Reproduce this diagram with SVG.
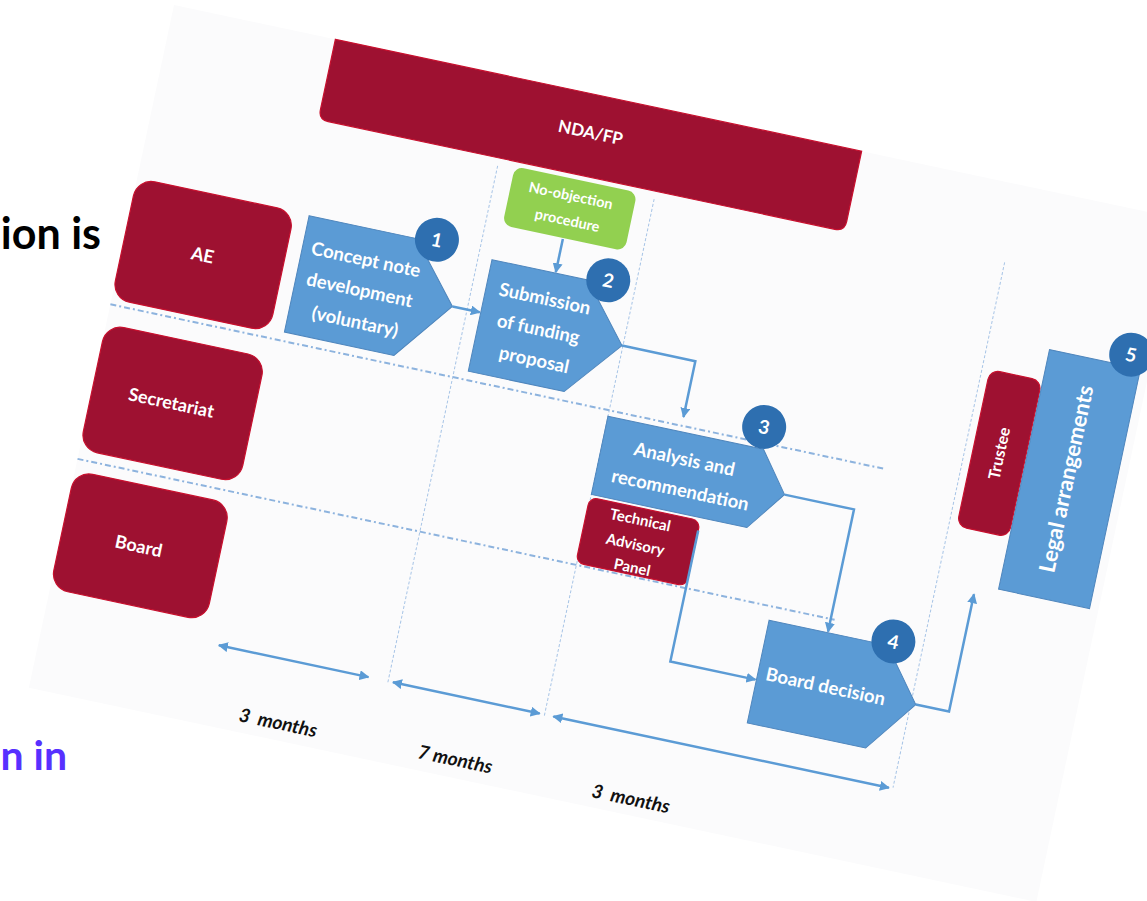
<svg xmlns="http://www.w3.org/2000/svg" width="1147" height="901" viewBox="0 0 1147 901">
  <defs>
    <style>
      .lane { fill: #9e1131; stroke: #c8102e; stroke-width: 1.2; }
      .step { fill: #5b9bd5; stroke: #4f86bd; stroke-width: 1; }
      .badge { fill: #2e6fb0; }
      .wt { fill: #ffffff; font-family: Lato, "Open Sans", sans-serif; font-weight: bold; text-anchor: middle; }
      .num { fill: #ffffff; font-family: Lato, "Open Sans", sans-serif; font-weight: bold; font-size: 19px; text-anchor: middle; }
      .conn { fill: none; stroke: #5b9bd5; stroke-width: 2.5; }
      .swim { fill: none; stroke: #8db3de; stroke-width: 2; stroke-dasharray: 6 3 2 3; }
      .col { fill: none; stroke: #a7c4e6; stroke-width: 1; stroke-dasharray: 3 2; }
      .span { fill: none; stroke: #5b9bd5; stroke-width: 2.5; }
      .dur { fill: #111111; font-family: Lato, "Open Sans", sans-serif; font-weight: bold; font-style: italic; font-size: 19px; text-anchor: middle; word-spacing: 4px; }
      .bg { font-family: Lato, "Open Sans", sans-serif; font-weight: bold; text-anchor: end; }
    </style>
    <marker id="arr" viewBox="0 0 10 10" refX="9" refY="5" markerWidth="4" markerHeight="4" orient="auto">
      <path d="M0,0 L10,5 L0,10 Z" fill="#5b9bd5"/>
    </marker>
    <marker id="arrStart" viewBox="0 0 10 10" refX="1" refY="5" markerWidth="4" markerHeight="4" orient="auto">
      <path d="M10,0 L0,5 L10,10 Z" fill="#5b9bd5"/>
    </marker>
  </defs>

  <rect width="1147" height="901" fill="#ffffff"/>

  <!-- slide text partly covered by the tilted sheet -->
  <text class="bg" x="101" y="249" font-size="43" fill="#000000">ion is</text>
  <text class="bg" x="67" y="770" font-size="41" fill="#5730ff">n in</text>

  <!-- tilted sheet with the process chart -->
  <g id="sheet" transform="translate(174,5) rotate(12)">
    <rect x="0" y="0" width="1030" height="698" fill="#fbfbfc"/>

    <!-- swimlane separators -->
    <g id="lanes-lines">
      <line class="swim" x1="0" y1="306" x2="792" y2="306"/>
      <line class="swim" x1="0" y1="464" x2="774" y2="464"/>
    </g>

    <!-- phase columns -->
    <g id="columns">
      <line class="col" x1="350" y1="90" x2="350" y2="618"/>
      <line class="col" x1="510" y1="90" x2="510" y2="619"/>
      <line class="col" x1="866" y1="79" x2="866" y2="616"/>
    </g>

    <!-- country-level header -->
    <g id="nda-fp">
      <path class="lane" d="M165,0 H703 V72 Q703,82 693,82 H175 Q165,82 165,72 Z"/>
      <text class="wt" x="434" y="44" font-size="17">NDA/FP</text>
    </g>

    <!-- lane headers -->
    <g id="lane-ae">
      <rect class="lane" x="0" y="177" width="161" height="123" rx="18"/>
      <text class="wt" x="80" y="245" font-size="18">AE</text>
    </g>
    <g id="lane-secretariat">
      <rect class="lane" x="0" y="326" width="163" height="128" rx="18"/>
      <text class="wt" x="80" y="396" font-size="18">Secretariat</text>
    </g>
    <g id="lane-board">
      <rect class="lane" x="0" y="476" width="159" height="120" rx="18"/>
      <text class="wt" x="78" y="543" font-size="18">Board</text>
    </g>

    <!-- step 1 -->
    <g id="step-1">
      <polygon class="step" points="176,178 286,178 335,237 288,297 176,297"/>
      <text class="wt" font-size="18.5">
        <tspan x="243" y="215.5">Concept note</tspan>
        <tspan x="243" y="246.5">development</tspan>
        <tspan x="243" y="278.5">(voluntary)</tspan>
      </text>
      <circle class="badge" cx="306" cy="175" r="22"/>
      <text class="num" x="306" y="182">1</text>
    </g>

    <!-- no-objection -->
    <g id="no-objection">
      <rect x="367" y="87" width="125" height="60" rx="9" fill="#92d050"/>
      <text class="wt" font-size="14.5">
        <tspan x="429.5" y="109">No-objection</tspan>
        <tspan x="429.5" y="134">procedure</tspan>
      </text>
    </g>

    <!-- step 2 -->
    <g id="step-2">
      <polygon class="step" points="364,183 462,183 509,240 462,297 364,297"/>
      <text class="wt" font-size="18.5">
        <tspan x="426" y="216.5">Submission</tspan>
        <tspan x="426" y="247.5">of funding</tspan>
        <tspan x="426" y="278.5">proposal</tspan>
      </text>
      <circle class="badge" cx="482" cy="179" r="22"/>
      <text class="num" x="482" y="186">2</text>
    </g>

    <!-- step 3 -->
    <g id="step-3">
      <polygon class="step" points="510,312 669,312 699,352 669,392 510,392"/>
      <text class="wt" font-size="18.5">
        <tspan x="596" y="344.5">Analysis and</tspan>
        <tspan x="596" y="375.5">recommendation</tspan>
      </text>
      <circle class="badge" cx="665" cy="290" r="22"/>
      <text class="num" x="665" y="297">3</text>
    </g>

    <!-- technical advisory panel -->
    <g id="tap">
      <rect class="lane" x="509" y="395" width="113" height="67" rx="8"/>
      <text class="wt" font-size="15">
        <tspan x="565" y="412">Technical</tspan>
        <tspan x="565" y="437">Advisory</tspan>
        <tspan x="565" y="460">Panel</tspan>
      </text>
    </g>

    <!-- step 4 -->
    <g id="step-4">
      <polygon class="step" points="710,478 831,478 871,530 831,583 710,583"/>
      <text class="wt" x="779" y="537.5" font-size="18.5">Board decision</text>
      <circle class="badge" cx="836" cy="473" r="22"/>
      <text class="num" x="836" y="480">4</text>
    </g>

    <!-- trustee -->
    <g id="trustee">
      <rect class="lane" x="874" y="187" width="53" height="160" rx="10"/>
      <text class="wt" font-size="16" transform="translate(906,267) rotate(-90)" x="0" y="0">Trustee</text>
    </g>

    <!-- step 5 -->
    <g id="step-5">
      <rect class="step" x="928" y="155" width="93" height="245"/>
      <text class="wt" font-size="22" transform="translate(979,278) rotate(-90)" x="0" y="0">Legal arrangements</text>
      <circle class="badge" cx="1009" cy="143" r="22"/>
      <text class="num" x="1009" y="150">5</text>
    </g>

    <!-- flow connectors -->
    <g id="connectors">
      <line class="conn" x1="429" y1="148" x2="429" y2="182" marker-end="url(#arr)"/>
      <line class="conn" x1="335" y1="237" x2="363" y2="237" marker-end="url(#arr)"/>
      <polyline class="conn" points="509,240 584,240 584,297" marker-end="url(#arr)"/>
      <polyline class="conn" points="699,352 770,352 770,477" marker-end="url(#arr)"/>
      <polyline class="conn" points="622,405 622,539 709,539" marker-end="url(#arr)"/>
      <polyline class="conn" points="871,530 905,530 905,410" marker-end="url(#arr)"/>
    </g>

    <!-- durations -->
    <g id="timeline">
      <line class="span" x1="177" y1="617" x2="330" y2="617" marker-start="url(#arrStart)" marker-end="url(#arr)"/>
      <line class="span" x1="355" y1="617" x2="505" y2="617" marker-start="url(#arrStart)" marker-end="url(#arr)"/>
      <line class="span" x1="519" y1="617" x2="862" y2="617" marker-start="url(#arrStart)" marker-end="url(#arr)"/>
      <text class="dur" x="251" y="687">3 months</text>
      <text class="dur" x="432" y="686" style="word-spacing:0">7 months</text>
      <text class="dur" x="612" y="688">3 months</text>
    </g>
  </g>
</svg>
